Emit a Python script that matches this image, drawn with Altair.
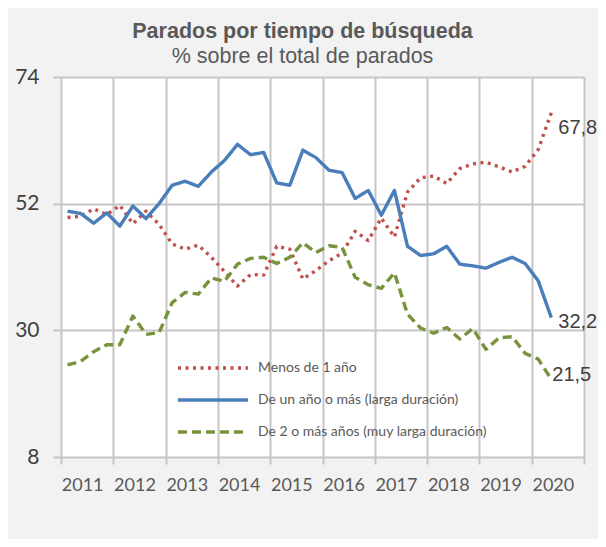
import altair as alt
import pandas as pd

# ---- data ----
years = [2011, 2012, 2013, 2014, 2015, 2016, 2017, 2018, 2019, 2020]
quarter_years = [y for y in years for _ in range(4)][:38]
quarter_nums = [1, 2, 3, 4] * 9 + [1, 2]

series_names = [
    "Menos de 1 año",
    "De un año o más (larga duración)",
    "De 2 o más años (muy larga duración)",
]
series_colors = ["#C0504D", "#4A7EBB", "#77933C"]

menos_1 = [49.6, 49.8, 51.1, 50.1, 51.7, 48.5, 50.7, 48.4, 45.0, 44.1,
           44.8, 42.7, 40.2, 37.7, 39.7, 39.6, 44.6, 44.1, 38.9, 40.4,
           42.1, 43.4, 47.2, 45.6, 49.5, 46.2, 54.0, 56.5, 56.8, 55.5,
           58.1, 58.9, 59.2, 58.4, 57.5, 58.5, 61.4, 67.8]
uno_o_mas = [50.7, 50.3, 48.6, 50.4, 48.1, 51.6, 49.4, 52.0, 55.2, 55.9,
             55.0, 57.5, 59.5, 62.3, 60.5, 60.9, 55.6, 55.2, 61.3, 60.0,
             57.8, 57.4, 52.9, 54.3, 50.0, 54.3, 44.6, 43.0, 43.3, 44.6,
             41.5, 41.2, 40.8, 41.8, 42.7, 41.6, 38.6, 32.2]
dos_o_mas = [24.0, 24.6, 26.3, 27.5, 27.5, 32.5, 29.3, 29.6, 34.8, 36.6,
             36.3, 39.1, 38.5, 41.5, 42.5, 42.7, 41.6, 42.7, 45.2, 43.5,
             44.7, 44.4, 39.2, 37.9, 37.3, 40.0, 32.8, 30.4, 29.5, 30.5,
             28.5, 30.3, 26.7, 28.7, 28.9, 26.0, 25.0, 21.5]

y_ticks = [8, 30, 52, 74]
x_ticks = years + [2021]

# ---- tables ----
rows = []
for name, vals in zip(series_names, [menos_1, uno_o_mas, dos_o_mas]):
    for yr, q, v in zip(quarter_years, quarter_nums, vals):
        rows.append({"serie": name, "t": yr + (q - 0.5) / 4, "v": v})
df = pd.DataFrame(rows)

last = df.groupby("serie", sort=False).tail(1).copy()
last["label"] = last["v"].map(lambda v: f"{v:.1f}".replace(".", ","))

GRID = "#C6C6C6"
PLOT_W = 523
PLOT_H = 380

x_axis = alt.Axis(
    values=x_ticks,
    format="d",
    labelExpr="datum.value == 2021 ? '' : datum.label",
    labelOffset=PLOT_W / 20 - 5,
    grid=True,
    gridColor=GRID,
    gridWidth=2,
    tickColor=GRID,
    tickWidth=2,
    tickSize=7,
    domain=False,
    title=None,
    labelOverlap=False,
    labelFlush=False,
    labelFont="Lato",
    labelFontSize=18,
    labelColor="#595959",
    labelPadding=12,
)
y_axis = alt.Axis(
    values=y_ticks,
    grid=True,
    gridColor=GRID,
    gridWidth=2,
    tickColor=GRID,
    tickWidth=2,
    tickSize=8,
    domain=False,
    title=None,
    labelFont="Lato",
    labelFontSize=21,
    labelColor="#404040",
    labelPadding=14,
)

legend = alt.Legend(
    orient="none",
    legendX=115,
    legendY=283,
    title=None,
    symbolType="stroke",
    symbolSize=4900,
    symbolStrokeWidth=3.5,
    labelFont="Lato",
    labelFontSize=14,
    labelColor="#595959",
    labelOffset=8,
    labelLimit=0,
    padding=0,
    clipHeight=16,
    rowPadding=16,
)

x_enc = alt.X("t:Q", scale=alt.Scale(domain=[2011, 2021], nice=False, zero=False), axis=x_axis)
y_enc = alt.Y("v:Q", scale=alt.Scale(domain=[8, 74], nice=False, zero=False), axis=y_axis)

lines = alt.Chart(df).mark_line(strokeWidth=3.4, strokeJoin="round").encode(
    x=x_enc,
    y=y_enc,
    color=alt.Color("serie:N", scale=alt.Scale(domain=series_names, range=series_colors), legend=legend),
    strokeDash=alt.StrokeDash(
        "serie:N",
        scale=alt.Scale(domain=series_names, range=[[3, 4.5], [1, 0], [9, 5]]),
        legend=legend,
    ),
)

def end_label(name, dx, dy):
    return alt.Chart(last).transform_filter(alt.datum.serie == name).mark_text(
        align="left", baseline="middle", dx=dx, dy=dy,
        font="Liberation Sans", fontSize=20, color="#404040",
    ).encode(x="t:Q", y="v:Q", text="label:N")

chart = alt.layer(
    lines,
    end_label(series_names[0], 7, 15),
    end_label(series_names[1], 7, 4),
    end_label(series_names[2], 1, -4),
).properties(
    width=PLOT_W,
    height=PLOT_H,
    padding={"left": 53, "top": 69, "right": 14, "bottom": 82},
    autosize=alt.AutoSizeParams(type="none"),
    background="#F2F2F2",
    title=alt.TitleParams(
        text="Parados por tiempo de búsqueda",
        subtitle="% sobre el total de parados",
        font="Liberation Sans",
        fontSize=21.5,
        fontWeight="bold",
        color="#595959",
        subtitleFont="Liberation Sans",
        subtitleFontSize=21.5,
        subtitleColor="#595959",
        subtitlePadding=3,
        anchor="middle",
        dx=-20,
        offset=-1,
    ),
).configure_view(fill="white", stroke=None)

chart.save("out.html", embed_options={"renderer": "svg", "actions": False})
